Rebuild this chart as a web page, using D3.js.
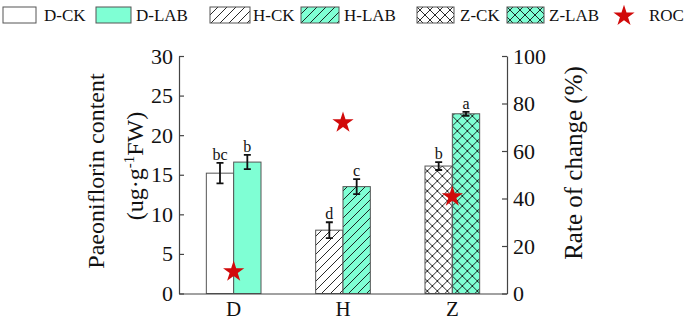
<!DOCTYPE html>
<html>
<head>
<meta charset="utf-8">
<script src="https://cdn.jsdelivr.net/npm/d3@7"></script>
<style>
  body { margin: 0; background: #fff; }
</style>
</head>
<body>
<div id="wrapper"></div>
<script>
const sites = ["D", "H", "Z"]
const ckValues = [15.2, 8.0, 16.1]
const labValues = [16.6, 13.5, 22.7]
const ckErrors = [1.3, 1.0, 0.5]
const labErrors = [0.9, 0.95, 0.25]
const ckLetters = ["bc", "d", "b"]
const labLetters = ["b", "c", "a"]
const rocValues = [9.2, 71.9, 40.8]
const leftTicks = [0, 5, 10, 15, 20, 25, 30]
const rightTicks = [0, 20, 40, 60, 80, 100]
const legendLabels = ["D-CK", "D-LAB", "H-CK", "H-LAB", "Z-CK", "Z-LAB", "ROC"]

const teal = "#7fffd4"
const starRed = "#d10a0a"
const serif = "'Liberation Serif', 'Times New Roman', serif"

let dimensions = {
  width: 685,
  height: 322,
  margin: { top: 56, right: 178, bottom: 28.5, left: 179 },
}
dimensions.boundedWidth = dimensions.width - dimensions.margin.left - dimensions.margin.right
dimensions.boundedHeight = dimensions.height - dimensions.margin.top - dimensions.margin.bottom

const svg = d3.select("#wrapper")
  .append("svg")
    .attr("width", dimensions.width)
    .attr("height", dimensions.height)
    .attr("font-family", serif)

// hatch patterns
const defs = svg.append("defs")
function addPattern(id, fill, kind) {
  const w = kind === "diag" ? 9 : 10
  const h = kind === "diag" ? 9 : 10
  const p = defs.append("pattern")
      .attr("id", id)
      .attr("patternUnits", "userSpaceOnUse")
      .attr("width", w)
      .attr("height", h)
  p.append("rect").attr("width", w).attr("height", h).attr("fill", fill)
  if (kind === "diag") {
    p.append("path")
      .attr("d", `M0,${h} L${w},0 M${-w},${h} L0,0 M${w},${2*h} L${2*w},${h}`)
      .attr("stroke", "#111").attr("stroke-width", 0.9)
  } else {
    p.append("path")
      .attr("d", `M0,0 L${w},${h} M0,${h} L${w},0`)
      .attr("stroke", "#111").attr("stroke-width", 0.9)
  }
}
addPattern("hWhite", "#fff", "diag")
addPattern("hTeal", teal, "diag")
addPattern("zWhite", "#fff", "cross")
addPattern("zTeal", teal, "cross")

const fills = {
  D: ["#fff", teal],
  H: ["url(#hWhite)", "url(#hTeal)"],
  Z: ["url(#zWhite)", "url(#zTeal)"],
}

const bounds = svg.append("g")
    .attr("transform", `translate(${dimensions.margin.left},${dimensions.margin.top})`)

const xScale = d3.scaleBand()
    .domain(sites)
    .range([0, dimensions.boundedWidth])

const yScale = d3.scaleLinear()
    .domain([0, 30])
    .range([dimensions.boundedHeight, 0])

const rocScale = d3.scaleLinear()
    .domain([0, 100])
    .range([dimensions.boundedHeight, 0])

const barWidth = xScale.bandwidth() * 0.25

const rows = sites.map((s, i) => ({
  site: s,
  bars: [
    { v: ckValues[i], e: ckErrors[i], letter: ckLetters[i], fill: fills[s][0], offset: -barWidth },
    { v: labValues[i], e: labErrors[i], letter: labLetters[i], fill: fills[s][1], offset: 0 },
  ],
}))

const groups = bounds.selectAll(".site")
  .data(rows)
  .join("g")
    .attr("transform", d => `translate(${xScale(d.site) + xScale.bandwidth() / 2},0)`)

const bars = groups.selectAll(".bar")
  .data(d => d.bars)
  .join("g")

bars.append("rect")
    .attr("x", d => d.offset)
    .attr("y", d => yScale(d.v))
    .attr("width", barWidth)
    .attr("height", d => dimensions.boundedHeight - yScale(d.v))
    .attr("fill", d => d.fill)
    .attr("stroke", "#555")
    .attr("stroke-width", 1)

// error bars
bars.append("path")
    .attr("d", d => {
      const cx = d.offset + barWidth / 2
      const y1 = yScale(d.v + d.e), y2 = yScale(d.v - d.e)
      return `M${cx - 3.5},${y1} H${cx + 3.5} M${cx},${y1} V${y2} M${cx - 3.5},${y2} H${cx + 3.5}`
    })
    .attr("stroke", "#111")
    .attr("stroke-width", 1.8)
    .attr("fill", "none")

bars.append("text")
    .attr("x", d => d.offset + barWidth / 2)
    .attr("y", d => yScale(d.v + d.e) - 3)
    .attr("text-anchor", "middle")
    .style("font-family", serif)
    .style("font-size", "16px")
    .attr("fill", "#111")
    .text(d => d.letter)

// axes
const yAxis = bounds.append("g")
    .call(d3.axisLeft(yScale).tickValues(leftTicks).tickSizeInner(-5).tickSizeOuter(0).tickPadding(6))
const rAxis = bounds.append("g")
    .attr("transform", `translate(${dimensions.boundedWidth},0)`)
    .call(d3.axisRight(rocScale).tickValues(rightTicks).tickSizeInner(-5).tickSizeOuter(0).tickPadding(6))
const xAxis = bounds.append("g")
    .attr("transform", `translate(0,${dimensions.boundedHeight})`)
    .call(d3.axisBottom(xScale).tickSize(0).tickPadding(8))

;[yAxis, rAxis, xAxis].forEach(a => {
  a.attr("font-family", serif)
  a.select(".domain").attr("stroke", "#444").attr("stroke-width", 1.2)
  a.selectAll(".tick line").attr("stroke", "#444").attr("stroke-width", 1.2)
  a.selectAll(".tick text")
    .style("font-family", serif)
    .style("font-size", "22px")
    .attr("fill", "#111")
})
xAxis.selectAll(".tick text").style("font-size", "21px")
rAxis.selectAll(".tick line").attr("x2", -5)

// ROC stars
const star = d3.symbol().type(d3.symbolStar).size(140)
bounds.selectAll(".roc")
  .data(sites.map((s, i) => ({ site: s, roc: rocValues[i] })))
  .join("path")
    .attr("d", star)
    .attr("transform", d => `translate(${xScale(d.site) + xScale.bandwidth() / 2},${rocScale(d.roc)})`)
    .attr("fill", starRed)

// axis titles
function title(x, y, size) {
  return svg.append("text")
      .attr("transform", `translate(${x},${y}) rotate(-90)`)
      .attr("text-anchor", "middle")
      .style("font-family", serif)
      .style("font-size", size + "px")
      .attr("fill", "#111")
}
title(104, 171, 24).text("Paeoniflorin content")
const unit = title(143, 166, 24)
unit.append("tspan").text("(ug·g")
unit.append("tspan").attr("dy", -9).style("font-size", "15px").text("-1")
unit.append("tspan").attr("dy", 9).text("FW)")
title(582, 163, 25).text("Rate of change (%)")

// legend
const legendBoxes = [[3, 33], [96, 35], [210, 40], [301, 38], [417, 37], [507, 37]]
const legendTextX = [44, 136, 253, 344, 460, 549]
const legendFills = ["#fff", teal, "url(#hWhite)", "url(#hTeal)", "url(#zWhite)", "url(#zTeal)"]
const legend = svg.append("g")
legend.selectAll("rect")
  .data(legendBoxes)
  .join("rect")
    .attr("x", d => d[0])
    .attr("y", 7)
    .attr("width", d => d[1])
    .attr("height", 16)
    .attr("fill", (d, i) => legendFills[i])
    .attr("stroke", "#555")
    .attr("stroke-width", 1)
legend.selectAll("text")
  .data(legendLabels.slice(0, 6))
  .join("text")
    .attr("x", (d, i) => legendTextX[i])
    .attr("y", 21)
    .style("font-family", serif)
    .style("font-size", "17px")
    .attr("fill", "#111")
    .text(d => d)
legend.append("path")
    .attr("d", star)
    .attr("transform", "translate(624,16)")
    .attr("fill", starRed)
legend.append("text")
    .attr("x", 649)
    .attr("y", 21)
    .style("font-family", serif)
    .style("font-size", "17px")
    .attr("fill", "#111")
    .text(legendLabels[6])
</script>
</body>
</html>
